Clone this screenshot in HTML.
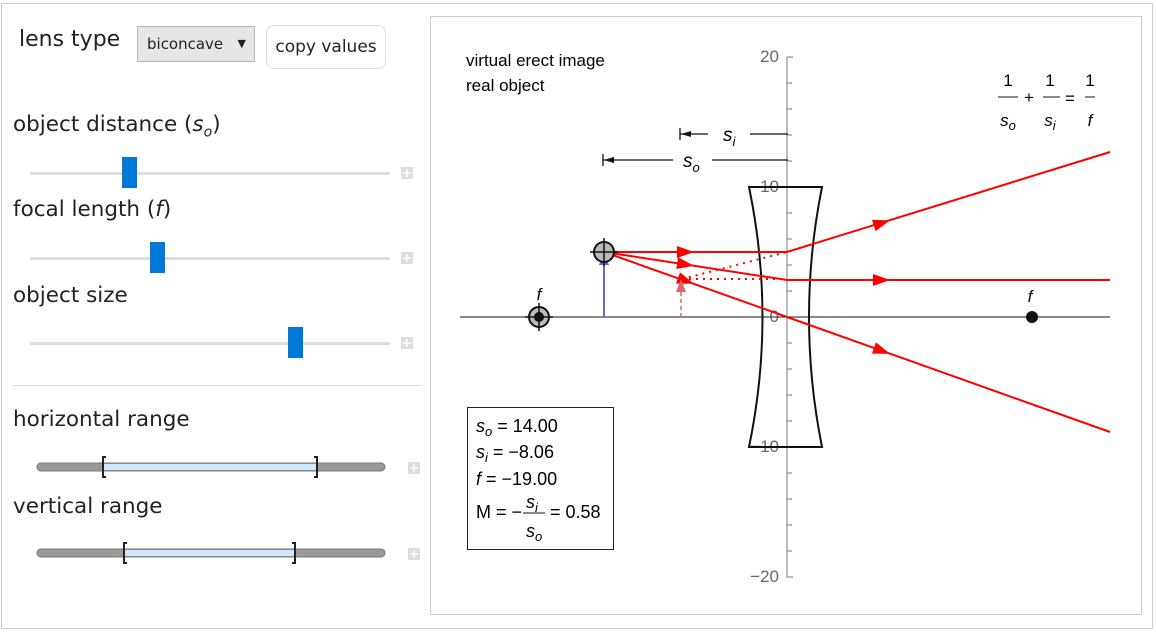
<!DOCTYPE html>
<html><head><meta charset="utf-8"><style>
body{margin:0;width:1156px;height:632px;background:#fff;font-family:"Segoe UI","DejaVu Sans","Liberation Sans",sans-serif;overflow:hidden;position:relative}
.t{position:absolute;color:#222;font-size:21.5px}
</style></head><body>
<div style="position:absolute;left:1px;top:3px;width:1150px;height:624px;border:1px solid #ccc"></div>
<div class="t" style="left:19px;top:27px;font-size:22px">lens type</div>
<div style="position:absolute;left:137px;top:26px;width:116px;height:34px;background:#e6e6e6;border:1px solid #b9b9b9;font-size:15px;line-height:34px;text-indent:9px;color:#222">biconcave<span style="position:absolute;right:8px;top:0;font-size:11px">▼</span></div>
<div style="position:absolute;left:266px;top:25px;width:118px;height:42px;border:1px solid #ddd;border-radius:8px;font-size:17px;line-height:42px;text-align:center;color:#222">copy values</div>
<div class="t" style="left:13px;top:112px">object distance (<i>s</i><sub style="font-size:14px"><i>o</i></sub>)</div>
<div class="t" style="left:13px;top:197px">focal length (<i>f</i>)</div>
<div class="t" style="left:13px;top:283px">object size</div>
<div class="t" style="left:13px;top:407px">horizontal range</div>
<div class="t" style="left:13px;top:494px">vertical range</div>
<div style="position:absolute;left:12px;top:385px;width:410px;height:1px;background:#ddd"></div>
<svg style="position:absolute;left:0;top:0" width="1156" height="632">
<g fill="#ddd"><rect x="30" y="172" width="360" height="3"/><rect x="30" y="257" width="360" height="3"/><rect x="30" y="342" width="360" height="3"/></g>
<g fill="#0078d7"><rect x="122" y="157" width="15" height="31"/><rect x="150" y="242" width="15" height="31"/><rect x="288" y="327" width="15" height="31"/></g>
<g fill="#ddd"><rect x="401" y="167" width="12" height="12"/><rect x="401" y="252" width="12" height="12"/><rect x="401" y="337" width="12" height="12"/><rect x="408" y="462" width="12" height="12"/><rect x="408" y="548" width="12" height="12"/></g>
<g stroke="#fff" stroke-width="1.5"><path d="M407 169v8M403 173h8M407 254v8M403 258h8M407 339v8M403 343h8M414 464v8M410 468h8M414 550v8M410 554h8"/></g>
<rect x="37" y="463" width="348" height="8" rx="4" fill="#999" stroke="#777"/>
<rect x="104" y="464" width="214" height="6" fill="#cfe8fb"/>
<rect x="37" y="549" width="348" height="8" rx="4" fill="#999" stroke="#777"/>
<rect x="125" y="550" width="171" height="6" fill="#cfe8fb"/>
<g stroke="#222" stroke-width="2" fill="none"><path d="M106 457h-3v20h3M314 457h3v20h-3M127 543h-3v20h3M292 543h3v20h-3"/></g>
<rect x="430.5" y="16.5" width="711" height="598" fill="none" stroke="#ccc"/>
<text x="466" y="66" font-family="Liberation Sans" font-size="17">virtual erect image</text>
<text x="466" y="91" font-family="Liberation Sans" font-size="17">real object</text>
<g stroke="#777" stroke-width="1"><line x1="787" y1="57" x2="787" y2="577"/>
<path d="M787 57h6M787 83h5M787 109h5M787 135h5M787 161h5M787 187h6M787 213h5M787 239h5M787 265h5M787 291h5M787 317h6M787 343h5M787 369h5M787 395h5M787 421h5M787 447h6M787 473h5M787 499h5M787 525h5M787 551h5M787 577h6"/></g>
<g font-family="Liberation Sans" font-size="17" fill="#666" text-anchor="end"><text x="779" y="62">20</text><text x="779" y="192">10</text><text x="779" y="322">0</text><text x="779" y="452">−10</text><text x="779" y="582">−20</text></g>
<line x1="460" y1="317" x2="1110" y2="317" stroke="#444" stroke-width="1.3"/>
<path d="M749 187H822Q796 317 822 447H749Q776 317 749 187Z" fill="none" stroke="#111" stroke-width="2"/>
<g stroke="#111" stroke-width="1.3"><path d="M680 128v12M680 134h28M750 134h38M603 154v12M603 160h70M712 160h76"/></g>
<g fill="#111"><path d="M681 134l10-3v6zM604 160l10-3v6z"/></g>
<g font-family="Liberation Sans" font-size="19" font-style="italic"><text x="723" y="141">s<tspan font-size="13" dy="5">i</tspan></text><text x="683" y="167">s<tspan font-size="13" dy="5">o</tspan></text></g>
<g font-family="Liberation Sans" font-size="17" text-anchor="middle"><text x="1008" y="86">1</text><text x="1050" y="86">1</text><text x="1090" y="86">1</text><text x="1029" y="103">+</text><text x="1070" y="104">=</text><text x="1008" y="126" font-style="italic">s<tspan font-size="13" dy="4">o</tspan></text><text x="1050" y="126" font-style="italic">s<tspan font-size="13" dy="4">i</tspan></text><text x="1090" y="126" font-style="italic">f</text></g>
<g stroke="#111"><path d="M998 97h20M1043 97h17M1085 97h10"/></g>
<g stroke="red" stroke-width="2" fill="none"><path d="M604 252H787L1110 152M604 252L787 280H1110M604 252L787 317L1110 432"/></g>
<g stroke="red" stroke-width="2" stroke-dasharray="2 5" fill="none"><path d="M682 279L787 252M682 279H787"/></g>
<g fill="red">
<polygon points="0,0 -17,-6 -17,6" transform="translate(694 252)"/>
<polygon points="0,0 -17,-6 -17,6" transform="translate(694 265.7) rotate(8.7)"/>
<polygon points="0,0 -17,-6 -17,6" transform="translate(694 283.7) rotate(19.6)"/>
<polygon points="0,0 -17,-6 -17,6" transform="translate(890 220.4) rotate(-17.2)"/>
<polygon points="0,0 -17,-6 -17,6" transform="translate(890 280)"/>
<polygon points="0,0 -17,-6 -17,6" transform="translate(890 353.7) rotate(19.6)"/>
</g>
<line x1="681" y1="317" x2="681" y2="290" stroke="#d66" stroke-width="1.5" stroke-dasharray="4 3"/>
<path d="M681 279l-5 13h10z" fill="#d66"/>
<line x1="604" y1="317" x2="604" y2="262" stroke="#7060d0" stroke-width="2"/>
<path d="M604 252l-5 13h10z" fill="#7060d0"/>
<circle cx="604" cy="252" r="10" fill="#bbb" stroke="#111" stroke-width="2"/>
<path d="M604 238v28M590 252h28" stroke="#111" stroke-width="1.5"/>
<circle cx="539" cy="317" r="10" fill="#bbb" stroke="#111" stroke-width="2"/>
<circle cx="539" cy="317" r="5" fill="#111"/>
<path d="M539 303v28M525 317h28" stroke="#111" stroke-width="1.5"/>
<circle cx="1032" cy="317" r="6" fill="#111"/>
<g font-family="Liberation Sans" font-size="17" font-style="italic" text-anchor="middle"><text x="539" y="300">f</text><text x="1030" y="302">f</text></g>
<rect x="467.5" y="407.5" width="146" height="142" fill="#fff" stroke="#222"/>
<g font-family="Liberation Sans" font-size="18"><text x="476" y="432"><tspan font-style="italic">s<tspan font-size="13" dy="4">o</tspan></tspan><tspan dy="-4"> = 14.00</tspan></text>
<text x="476" y="458"><tspan font-style="italic">s<tspan font-size="13" dy="4">i</tspan></tspan><tspan dy="-4"> = −8.06</tspan></text>
<text x="476" y="485"><tspan font-style="italic">f</tspan> = −19.00</text>
<text x="476" y="518">M = −</text><text x="550" y="518">= 0.58</text>
<text x="526" y="508" font-style="italic">s<tspan font-size="13" dy="4">i</tspan></text>
<text x="526" y="537" font-style="italic">s<tspan font-size="13" dy="4">o</tspan></text></g>
<line x1="523" y1="513" x2="545" y2="513" stroke="#111"/>
</svg>
</body></html>
